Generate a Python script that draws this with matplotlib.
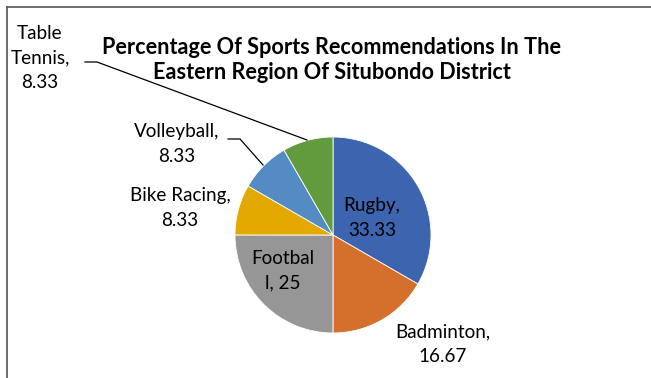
import matplotlib.pyplot as plt
from matplotlib.lines import Line2D

sports = ['Rugby', 'Badminton', 'Football', 'Bike Racing', 'Volleyball', 'Table Tennis']
shares = [33.33, 16.67, 25, 8.33, 8.33, 8.33]
colors = ['#3d64ae', '#d46f2c', '#969696', '#e4a900', '#538cc3', '#629b3e']
label_text = ['Rugby,\n33.33', 'Badminton,\n16.67', 'Footbal\nl, 25',
              'Bike Racing,\n8.33', 'Volleyball,\n8.33', 'Table\nTennis,\n8.33']

W, H = 651, 378
CX, CY, R = 333, 235, 98

plt.rcParams['font.family'] = ['Lato', 'DejaVu Sans']

fig = plt.figure(figsize=(W / 100, H / 100), dpi=100)
ax = fig.add_axes([(CX - R) / W, (H - CY - R) / H, 2 * R / W, 2 * R / H])
ax.pie(shares, colors=colors, startangle=90, counterclock=False, radius=1,
       wedgeprops=dict(edgecolor='white', linewidth=0.6))
ax.set_xlim(-1, 1)
ax.set_ylim(-1, 1)
ax.set_aspect('equal')
ax.axis('off')


def px(x, y):
    # image pixel -> pie data coords
    return (x - CX) / R, (CY - y) / R


# label centres in pixel coords
label_pos = [(372, 218), (443, 344), (283, 271), (180, 208), (177, 144), (40, 58)]
for txt, (x, y) in zip(label_text, label_pos):
    ax.text(*px(x, y), txt, ha='center', va='center', fontsize=13.6,
            color='black', linespacing=1.55, clip_on=False)

# leader lines
for pts in ([(85, 62), (97, 62), (307, 140)], [(228, 139), (240, 139), (263, 165)]):
    xs, ys = zip(*[px(*p) for p in pts])
    ax.plot(xs, ys, color='black', lw=0.9, clip_on=False)

fig.text(332 / W, 1 - 60 / H,
         'Percentage Of Sports Recommendations In The\nEastern Region Of Situbondo District',
         ha='center', va='center', fontsize=15.6, fontweight='bold', linespacing=1.25)

# chart frame (cut off at right and bottom)
fig.add_artist(Line2D([7 / W, 7 / W], [0, 1 - 7 / H], transform=fig.transFigure,
                      color='#555555', lw=1.2))
fig.add_artist(Line2D([7 / W, 1], [1 - 7 / H, 1 - 7 / H], transform=fig.transFigure,
                      color='#555555', lw=1.2))

fig.savefig('out.png', dpi=100)
